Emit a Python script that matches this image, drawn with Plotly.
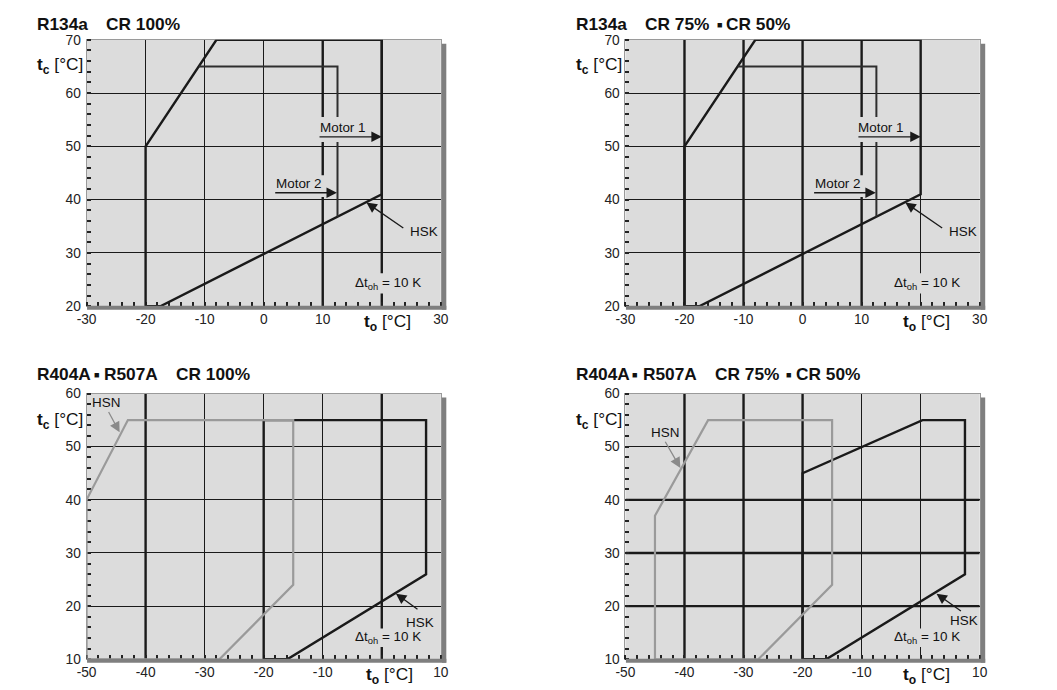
import plotly.graph_objects as go

W, H = 1057, 690
FONT = "Liberation Sans, Arial, Helvetica, sans-serif"
INK = "#1a1a1a"
BG = "#dcdcdc"
GRAY_LINE = "#9a9a9a"

# ---------------- data ----------------
# R134a (both top charts)
r134a_env_x = [-20, -20, -8, 20, 20, -17.5, -20]
r134a_env_y = [20, 50, 70, 70, 41, 20, 20]
r134a_motor2_x = [-11, 12.5, 12.5]
r134a_motor2_y = [65, 65, 36.8]

# R404A / R507A CR 100%
hsn100_x = [-50, -43, -15, -15, -27.5, -50, -50]
hsn100_y = [40, 55, 55, 24, 10, 10, 40]
hsk100_x = [-20, -20, 7.5, 7.5, -16, -20]
hsk100_y = [10, 55, 55, 26, 10, 10]

# R404A / R507A CR 75% / 50%
hsn75_x = [-45, -45, -36, -15, -15, -27.5, -45]
hsn75_y = [10, 37, 55, 55, 24, 10, 10]
hsk75_x = [-20, -20, 0.3, 7.5, 7.5, -16, -20]
hsk75_y = [10, 45, 55, 55, 26, 10, 10]

# axes
r134a_x_ticks = [-30, -20, -10, 0, 10, 20, 30]
r134a_x_text = ["-30", "-20", "-10", "0", "10", "", "30"]
r134a_y_ticks = [20, 30, 40, 50, 60, 70]
r404_x_ticks = [-50, -40, -30, -20, -10, 0, 10]
r404_x_text = ["-50", "-40", "-30", "-20", "-10", "", "10"]
r404_y_ticks = [10, 20, 30, 40, 50, 60]

# emphasised (thick) grid lines
thick_v = {1: [10, 20], 2: [-20, -10, 0, 10], 3: [-40, 0], 4: [-40, -30, -20]}
thick_h = {1: [], 2: [], 3: [], 4: [20, 30, 40]}

# ---------------- geometry ----------------
# screen placement compensation (page is shown slightly scaled/offset)
SX, OX = 0.985, 16.3
SY, OY = 0.979, 14.5
FS = 1.0 / 0.982


def X(t):
    return (t - OX) / SX


def Y(t):
    return (t - OY) / SY


def fs(v):
    return v * FS


# target on-screen boxes (left, right, top, bottom)
boxes = {
    1: (85, 440, 39.3, 306.0),
    2: (625, 980, 39.3, 306.0),
    3: (85, 440, 393.3, 659.3),
    4: (625, 980, 393.3, 659.3),
}
ranges = {
    1: ((-30, 30), (20, 70)),
    2: ((-30, 30), (20, 70)),
    3: ((-50, 10), (10, 60)),
    4: ((-50, 10), (10, 60)),
}

fig = go.Figure()


def ax_names(i):
    s = "" if i == 1 else str(i)
    return "x" + s, "y" + s, "xaxis" + s, "yaxis" + s


layout_axes = {}
shapes = []
annotations = []

for i in range(1, 5):
    xr, yr, xk, yk = ax_names(i)
    L, R, T, B = boxes[i]
    (x0, x1), (y0, y1) = ranges[i]
    top = i in (1, 2)
    xt = r134a_x_ticks if top else r404_x_ticks
    xtt = r134a_x_text if top else r404_x_text
    yt = r134a_y_ticks if top else r404_y_ticks
    common = dict(
        showgrid=True, gridcolor=INK, gridwidth=1, zeroline=False,
        showline=True, linecolor=GRAY_LINE, linewidth=1, mirror=True,
        ticks="", tickfont=dict(family=FONT, size=fs(13.5), color="#222"),
        layer="below traces", fixedrange=True,
    )
    layout_axes[xk] = dict(
        common, domain=[X(L) / W, X(R) / W], range=[x0, x1], anchor=yr,
        tickmode="array", tickvals=xt, ticktext=xtt,
        minor=dict(ticks="inside", ticklen=4, tickwidth=2, tickcolor="#222",
                   dtick=2, tick0=x0, showgrid=False),
    )
    layout_axes[yk] = dict(
        common, domain=[1 - Y(B) / H, 1 - Y(T) / H], range=[y0, y1], anchor=xr,
        tickmode="array", tickvals=yt, ticktext=[str(v) for v in yt],
        ticklabelstandoff=2,
        minor=dict(ticks="inside", ticklen=4, tickwidth=2, tickcolor="#222",
                   dtick=2, tick0=y0, showgrid=False),
    )
    for v in thick_v[i]:
        shapes.append(dict(type="line", xref=xr, yref=yr, x0=v, x1=v, y0=y0, y1=y1,
                           line=dict(color=INK, width=2.4), layer="below"))
    for v in thick_h[i]:
        shapes.append(dict(type="line", xref=xr, yref=yr, x0=x0, x1=x1, y0=v, y1=v,
                           line=dict(color=INK, width=2.4), layer="below"))
    # drop shadow
    shapes.append(dict(type="rect", xref="paper", yref="paper",
                       x0=X(R + 1) / W, x1=X(R + 5.5) / W,
                       y0=1 - Y(B + 3.5) / H, y1=1 - Y(T + 4) / H,
                       fillcolor="#7f7f7f", line=dict(width=0), layer="above"))
    shapes.append(dict(type="rect", xref="paper", yref="paper",
                       x0=X(L + 0.5) / W, x1=X(R + 5.5) / W,
                       y0=1 - Y(B + 3.5) / H, y1=1 - Y(B - 0.5) / H,
                       fillcolor="#7f7f7f", line=dict(width=0), layer="above"))

fig.update_layout(**layout_axes)


def add_line(xs, ys, i, color=INK, width=2.4):
    xr, yr, _, _ = ax_names(i)
    fig.add_trace(go.Scatter(x=xs, y=ys, xaxis=xr, yaxis=yr, mode="lines",
                             line=dict(color=color, width=width), cliponaxis=False,
                             hoverinfo="skip", showlegend=False))


for i in (1, 2):
    add_line(r134a_env_x, r134a_env_y, i)
    add_line(r134a_motor2_x, r134a_motor2_y, i, color="#2e2e2e", width=2.0)
add_line(hsk100_x, hsk100_y, 3)
add_line(hsn100_x, hsn100_y, 3, color="#9a9a9a", width=2.2)
add_line(hsk75_x, hsk75_y, 4)
add_line(hsn75_x, hsn75_y, 4, color="#9a9a9a", width=2.2)


def mask(i, xa, xb, ya, yb):
    xr, yr, _, _ = ax_names(i)
    shapes.append(dict(type="rect", xref=xr, yref=yr, x0=xa, x1=xb, y0=ya, y1=yb,
                       fillcolor=BG, line=dict(width=0), layer="above"))


def dtext(i, txt, x, y, anchor="left", size=13.2, color="#111"):
    xr, yr, _, _ = ax_names(i)
    annotations.append(dict(text=txt, x=x, y=y, xref=xr, yref=yr, showarrow=False,
                            xanchor=anchor, yanchor="middle", borderpad=0,
                            font=dict(family=FONT, size=fs(size), color=color)))


def arrow(i, tx, ty, hx, hy, color=INK):
    xr, yr, _, _ = ax_names(i)
    annotations.append(dict(text="", x=hx, y=hy, ax=tx, ay=ty, xref=xr, yref=yr,
                            axref=xr, ayref=yr, showarrow=True, arrowhead=2,
                            arrowsize=1.6, arrowwidth=1.3, arrowcolor=color,
                            standoff=0, startstandoff=0))


DT = "Δt<sub>oh</sub> = 10 K"

for i in (1, 2):
    mask(i, 9.0, 17.5, 50.8, 55.5)
    mask(i, 1.5, 11.0, 40.5, 44.6)
    mask(i, 15.3, 26.5, 22.4, 26.2)
    dtext(i, "Motor 1", 9.3, 53.6)
    arrow(i, 9.2, 51.8, 20, 51.8)
    dtext(i, "Motor 2", 1.9, 43.0)
    arrow(i, 1.7, 41.3, 12.4, 41.3)
    dtext(i, "HSK", 24.6, 34.1)
    arrow(i, 23.9, 34.5, 17.4, 39.45)
    dtext(i, DT, 21.0, 24.3, anchor="center")

for i in (3, 4):
    mask(i, -4.5, 6.5, 12.3, 15.8)
    dtext(i, DT, 1.0, 14.1, anchor="center")

dtext(3, "HSN", -49.2, 58.3)
arrow(3, -46.4, 56.8, -44.4, 52.7, color="#8a8a8a")
dtext(3, "HSK", 3.9, 17.0)
arrow(3, 6.3, 19.2, 2.4, 22.35)

dtext(4, "HSN", -45.8, 52.7)
arrow(4, -43.4, 51.2, -40.7, 46.0, color="#8a8a8a")
dtext(4, "HSK", 4.76, 17.3)
arrow(4, 7.07, 18.9, 2.68, 22.35)


def ptext(txt, px, py, size=17, anchor="left", color="#111"):
    annotations.append(dict(text=txt, x=X(px) / W, y=1 - Y(py) / H, xref="paper", yref="paper",
                            showarrow=False, xanchor=anchor, yanchor="middle", borderpad=0,
                            font=dict(family=FONT, size=fs(size), color=color)))


# titles
ptext("<b>R134a</b>", 34, 24)
ptext("<b>CR 100%</b>", 103, 24)
ptext("<b>R134a</b>", 574, 24)
ptext("<b>CR 75%</b>", 644, 24)
ptext("■", 716, 25, size=9)
ptext("<b>CR 50%</b>", 725, 24)

ptext("<b>R404A</b>", 34, 374)
ptext("■", 91, 375, size=9)
ptext("<b>R507A</b>", 101, 374)
ptext("<b>CR 100%</b>", 174, 374)
ptext("<b>R404A</b>", 574, 374)
ptext("■", 631, 375, size=9)
ptext("<b>R507A</b>", 642, 374)
ptext("<b>CR 75%</b>", 714, 374)
ptext("■", 785, 375, size=9)
ptext("<b>CR 50%</b>", 795, 374)

# axis titles
YT = "<b>t</b><sub><b>c</b></sub> [°C]"
XT = "<b>t</b><sub><b>o</b></sub> [°C]"
ptext(YT, 34, 65)
ptext(YT, 574, 65)
ptext(YT, 34, 420)
ptext(YT, 574, 420)
ptext(XT, 362, 322)
ptext(XT, 902, 322)
ptext(XT, 364, 675)
ptext(XT, 902, 675)

fig.update_layout(
    width=W, height=H, margin=dict(l=0, r=0, t=0, b=0),
    paper_bgcolor="white", plot_bgcolor=BG, showlegend=False,
    shapes=shapes, annotations=annotations,
    font=dict(family=FONT, color="#111"),
)

fig.write_html("out.html")
